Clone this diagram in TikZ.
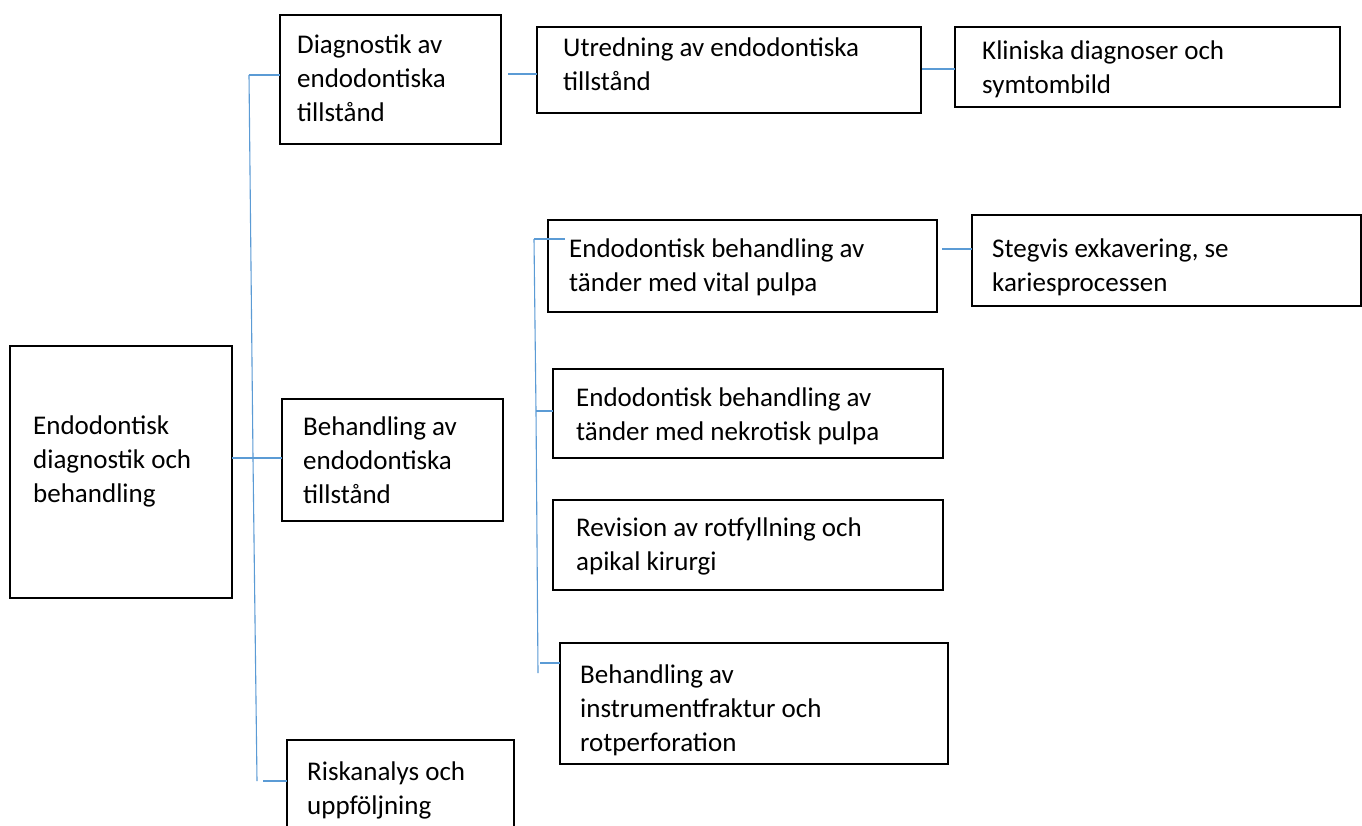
\documentclass[tikz,border=0pt]{standalone}
\usepackage{fontspec}
\setmainfont{Carlito}
\usetikzlibrary{calc}
\definecolor{conn}{HTML}{5B9BD5}
\tikzset{
  box/.style={draw=black, line width=1.6pt, anchor=north west, inner sep=0pt, outer sep=0pt},
  txt/.style={anchor=north west, inner sep=0pt, align=left, font=\fontsize{27}{34}\selectfont},
  link/.style={draw=conn, line width=1.1pt}
}
\newcommand{\mybox}[7]{% name, x1, y1, x2, y2, textx, textbaseline ; text
  \node[box, minimum width={(#4-#2)*1pt}, minimum height={(#5-#3)*1pt}] (#1) at (#2,#3) {};
  \node[txt] (#1-t) at (#6,#7-18)}
\begin{document}
\begin{tikzpicture}[x=1pt,y=-1pt]
\useasboundingbox (0,0) rectangle (1362,826);
\fill[white] (0,0) rectangle (1362,826);

\mybox{root}{10}{346}{232}{598}{33}{434} {Endodontisk\\diagnostik och\\behandling};
\mybox{diag}{280}{15}{501}{144}{297}{53} {Diagnostik av\\endodontiska\\tillstånd};
\mybox{beh}{282}{399}{503}{521}{303}{435} {Behandling av\\endodontiska\\tillstånd};
\mybox{risk}{287}{740}{514}{840}{307}{780} {Riskanalys och\\uppföljning};
\mybox{utr}{537}{27}{921}{113}{563}{56} {Utredning av endodontiska\\tillstånd};
\mybox{klin}{955}{27}{1340}{107}{982}{59} {Kliniska diagnoser och\\symtombild};
\mybox{vital}{548}{220}{937}{312}{569}{257} {Endodontisk behandling av\\tänder med vital pulpa};
\mybox{steg}{972}{215}{1361}{306}{992}{257} {Stegvis exkavering, se\\kariesprocessen};
\mybox{nekr}{553}{369}{943}{458}{576}{406} {Endodontisk behandling av\\tänder med nekrotisk pulpa};
\mybox{rev}{553}{500}{943}{590}{576}{536} {Revision av rotfyllning och\\apikal kirurgi};
\mybox{instr}{560}{643}{948}{764}{580}{683} {Behandling av\\instrumentfraktur och\\rotperforation};

% main trunk
\coordinate (t1) at (249,75);
\coordinate (t2) at (253,458);
\coordinate (t3) at (257,781);
\draw[link] (t1) -- (t2) -- (t3);
\draw[link] (t1) -- (diag.west |- t1);
\draw[link] (root.east |- t2) -- (beh.west |- t2);
\draw[link] (263,781) coordinate (t3b) -- (risk.west |- t3b);

% first row
\coordinate (u1) at (508,74);
\draw[link] (u1) -- (utr.west |- u1);
\coordinate (k1) at (922,69);
\draw[link] (k1) -- (klin.west |- k1);

% second trunk
\coordinate (s1) at (534,239);
\coordinate (s2) at (536,411);
\coordinate (s3) at (538,673);
\draw[link] (s1) -- (s2) -- (s3);
\draw[link] (s1) -- (565,239) coordinate (s1e);
\draw[link] (s2) -- (nekr.west |- s2);
\coordinate (s4) at (540,663);
\draw[link] (s4) -- (instr.west |- s4);

\coordinate (v1) at (942,249);
\draw[link] (v1) -- (steg.west |- v1);
\end{tikzpicture}
\end{document}
